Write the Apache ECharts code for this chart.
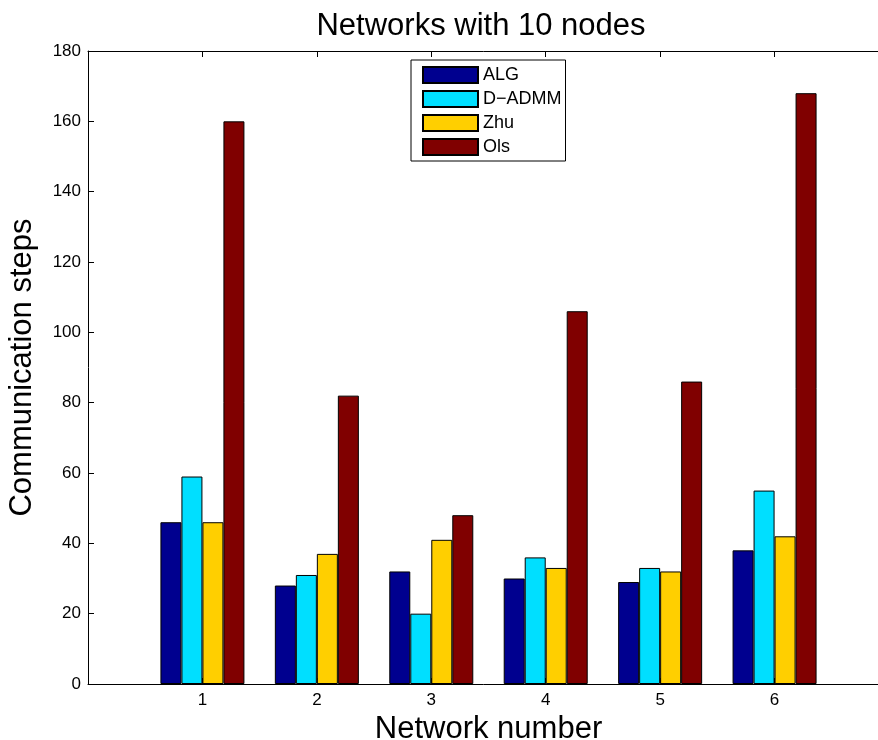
<!DOCTYPE html>
<html>
<head>
<meta charset="utf-8">
<title>Networks with 10 nodes</title>
<script src="https://cdn.jsdelivr.net/npm/echarts@6/dist/echarts.min.js"></script>
<style>
  html, body { margin: 0; padding: 0; background: #ffffff; }
  #chart { width: 878px; height: 740px; }
</style>
</head>
<body>
<div id="chart"></div>
<script>
// Network indices along the x axis
const networks = [1, 2, 3, 4, 5, 6];

// Communication steps per algorithm
const algSteps   = [46, 28, 32, 30, 29, 38];
const dadmmSteps = [59, 31, 20, 36, 33, 55];
const zhuSteps   = [46, 37, 41, 33, 32, 42];
const olsSteps   = [160, 82, 48, 106, 86, 168];

const seriesNames  = ['ALG', 'D\u2212ADMM', 'Zhu', 'Ols'];
const seriesColors = ['#00008f', '#00dfff', '#ffcf00', '#800000'];

const yTicks = { min: 0, max: 180, step: 20 };

// The x axis spans 0..7; its right end runs past the canvas edge
const xRange = { min: 0, max: 7, step: 1 };

const FONT = '"Liberation Sans", Arial, Helvetica, sans-serif';

const chart = echarts.init(document.getElementById('chart'));

function pairs(values) {
  return networks.map((n, i) => [n, values[i]]);
}

const allValues = [algSteps, dadmmSteps, zhuSteps, olsSteps];

const series = allValues.map((vals, k) => ({
  name: seriesNames[k],
  type: 'bar',
  xAxisIndex: 0,
  data: pairs(vals),
  barWidth: 21,
  barGap: '0%',
  itemStyle: {
    color: seriesColors[k],
    borderColor: '#000000',
    borderWidth: 1
  },
  emphasis: { disabled: true },
  animation: false
}));

const option = {
  backgroundColor: '#ffffff',
  animation: false,
  title: {
    text: 'Networks with 10 nodes',
    left: 476,
    top: 6,
    textAlign: 'center',
    textStyle: { fontFamily: FONT, fontSize: 31, fontWeight: 'normal', color: '#000' }
  },
  legend: {
    orient: 'vertical',
    left: 411,
    top: 60,
    itemWidth: 55,
    itemHeight: 16,
    itemGap: 6,
    padding: [6, 4, 5, 11],
    borderColor: '#000',
    borderWidth: 1,
    backgroundColor: '#fff',
    icon: 'rect',
    selectedMode: false,
    textStyle: { fontFamily: FONT, fontSize: 18, color: '#000' },
    data: seriesNames
  },
  grid: {
    left: 88, top: 51, right: -11, bottom: 56,
    containLabel: false,
    outerBoundsMode: 'none'
  },
  xAxis: [
    {
      type: 'value',
      position: 'bottom',
      min: xRange.min,
      max: xRange.max,
      interval: xRange.step,
      name: 'Network number',
      nameLocation: 'middle',
      nameGap: 23,
      nameTextStyle: { fontFamily: FONT, fontSize: 31, color: '#000' },
      axisLine: { show: true, lineStyle: { color: '#000', width: 1 } },
      axisTick: { show: true, inside: true, length: 6, lineStyle: { color: '#000' } },
      axisLabel: {
        fontFamily: FONT, fontSize: 17, color: '#000', margin: 8,
        formatter: v => (v >= 1 && v <= 6 ? String(v) : '')
      },
      splitLine: { show: false }
    },
    {
      type: 'value',
      position: 'top',
      min: xRange.min,
      max: xRange.max,
      interval: xRange.step,
      axisLine: { show: true, lineStyle: { color: '#000', width: 1 } },
      axisTick: { show: true, inside: true, length: 6, lineStyle: { color: '#000' } },
      axisLabel: { show: false },
      splitLine: { show: false }
    }
  ],
  yAxis: {
    type: 'value',
    min: yTicks.min,
    max: yTicks.max,
    interval: yTicks.step,
    name: 'Communication steps',
    nameLocation: 'middle',
    nameGap: 50,
    nameTextStyle: { fontFamily: FONT, fontSize: 31, color: '#000' },
    axisLine: { show: true, lineStyle: { color: '#000', width: 1 } },
    axisTick: { show: true, inside: true, length: 6, lineStyle: { color: '#000' } },
    axisLabel: { fontFamily: FONT, fontSize: 17, color: '#000', margin: 7 },
    splitLine: { show: false }
  },
  series: series
};

chart.setOption(option);
</script>
</body>
</html>
